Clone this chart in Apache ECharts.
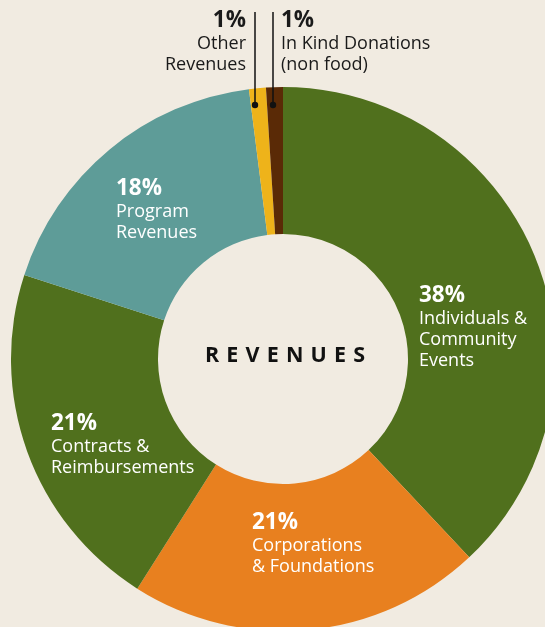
<!DOCTYPE html>
<html>
<head>
<meta charset="utf-8">
<script src="https://cdn.jsdelivr.net/npm/echarts@6/dist/echarts.min.js"></script>
<style>
  html, body { margin: 0; padding: 0; background: #F1EBE1; }
  #chart { width: 545px; height: 627px; }
</style>
</head>
<body>
<div id="chart"></div>
<script>
// Revenue sources, in drawing order (clockwise from 12 o'clock)
const categories = [
  'Individuals &\nCommunity\nEvents',
  'Corporations\n& Foundations',
  'Contracts &\nReimbursements',
  'Program\nRevenues',
  'Other\nRevenues',
  'In Kind Donations\n(non food)'
];
const shares = [38, 21, 21, 18, 1, 1];
const sliceColors = ['#50701D', '#E8801F', '#50701D', '#5E9C98', '#EEB31A', '#5A2A06'];

// Label anchor (top-left or top-right corner of each text block)
const labelSpots = [
  { x: 419, y: 284, align: 'left' },
  { x: 252, y: 511, align: 'left' },
  { x: 51,  y: 412, align: 'left' },
  { x: 116, y: 177, align: 'left' },
  { x: 246, y: 9,   align: 'right' },
  { x: 281, y: 9,   align: 'left' }
];

const FONT = '"Open Sans", Lato, sans-serif';
const chart = echarts.init(document.getElementById('chart'));

function richFor(color) {
  return {
    p: { fontFamily: FONT, fontSize: 22.5, fontWeight: 'bold', color: color, lineHeight: 24 },
    n: { fontFamily: FONT, fontSize: 18, color: color, lineHeight: 21 }
  };
}

const data = categories.map((name, i) => {
  const outside = i >= 4;
  const col = outside ? '#1a1a1a' : '#ffffff';
  const lines = name.split('\n').map(s => '{n|' + s + '}').join('\n');
  return {
    name: name,
    value: shares[i],
    itemStyle: { color: sliceColors[i] },
    label: {
      show: true,
      formatter: '{p|' + shares[i] + '%}\n' + lines,
      rich: richFor(col),
      align: labelSpots[i].align
    },
    labelLine: { show: false }
  };
});

chart.setOption({
  backgroundColor: '#F1EBE1',
  animation: false,
  series: [{
    type: 'pie',
    center: [283, 359],
    radius: [125, 272],
    startAngle: 90,
    clockwise: true,
    avoidLabelOverlap: false,
    silent: true,
    itemStyle: { borderWidth: 0 },
    label: { position: 'inside' },
    labelLayout: function (params) {
      const s = labelSpots[params.dataIndex];
      return { x: s.x, y: s.y, align: s.align, verticalAlign: 'top', hideOverlap: false };
    },
    data: data
  }],
  graphic: [
    // leader lines for the two thin slices at the top
    { type: 'line', shape: { x1: 255, y1: 12, x2: 255, y2: 105 }, style: { stroke: '#111', lineWidth: 1.5 }, z: 10 },
    { type: 'circle', shape: { cx: 255, cy: 105, r: 3.2 }, style: { fill: '#111' }, z: 10 },
    { type: 'line', shape: { x1: 273, y1: 12, x2: 273, y2: 105 }, style: { stroke: '#111', lineWidth: 1.5 }, z: 10 },
    { type: 'circle', shape: { cx: 273, cy: 105, r: 3.2 }, style: { fill: '#111' }, z: 10 },
    {
      type: 'text', x: 285, y: 356, z: 10,
      style: {
        text: 'R\u2004E\u2004V\u2004E\u2004N\u2004U\u2004E\u2004S',
        fontFamily: FONT, fontSize: 21.5, fontWeight: 'bold', fill: '#111',
        align: 'center', verticalAlign: 'middle'
      }
    }
  ]
});
</script>
</body>
</html>
